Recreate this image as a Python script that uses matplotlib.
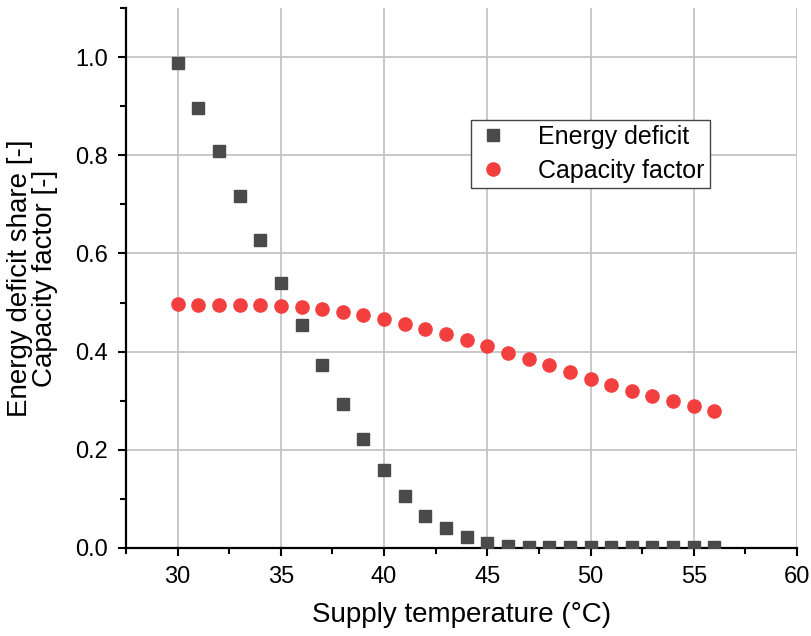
import matplotlib
matplotlib.use("Agg")
import matplotlib.pyplot as plt
from matplotlib.ticker import MultipleLocator

plt.rcParams['font.family'] = ['Liberation Sans', 'DejaVu Sans']

# supply temperature (°C)
temps = list(range(30, 57))

# energy deficit share [-]
deficit = [0.988, 0.897, 0.808, 0.718, 0.628, 0.540, 0.455, 0.372, 0.293, 0.222,
           0.158, 0.105, 0.066, 0.040, 0.022, 0.010, 0.005, 0.003, 0.002, 0.002,
           0.002, 0.002, 0.002, 0.002, 0.002, 0.002, 0.002]

# capacity factor [-]
capacity = [0.497, 0.496, 0.496, 0.495, 0.494, 0.493, 0.490, 0.486, 0.481, 0.474,
            0.466, 0.457, 0.447, 0.436, 0.424, 0.412, 0.398, 0.385, 0.372, 0.358,
            0.345, 0.332, 0.320, 0.309, 0.299, 0.289, 0.280]

fig = plt.figure(figsize=(8.11, 6.36), dpi=100)
ax = fig.add_axes([0.1554, 0.1384, 0.8273, 0.849])

ax.plot(temps, deficit, 's', color='#4a4a4a', markersize=8.5, label='Energy deficit', zorder=3)
ax.plot(temps, capacity, 'o', color='#f43f3f', markersize=9.5, label='Capacity factor', zorder=3)

ax.set_xlim(27.5, 60)
ax.set_ylim(0, 1.1)
ax.xaxis.set_minor_locator(MultipleLocator(2.5))
ax.yaxis.set_minor_locator(MultipleLocator(0.1))
ax.set_xticks(range(30, 61, 5))
ax.set_yticks([0.0, 0.2, 0.4, 0.6, 0.8, 1.0])
ax.set_yticklabels(['0.0', '0.2', '0.4', '0.6', '0.8', '1.0'])

ax.grid(True, which='major', color='#c0c0c0', linewidth=1.2, zorder=0)
ax.set_axisbelow(True)

for s in ['top', 'right']:
    ax.spines[s].set_visible(False)
for s in ['left', 'bottom']:
    ax.spines[s].set_linewidth(1.6)
    ax.spines[s].set_color('black')

ax.tick_params(which='major', direction='out', length=6, width=1.5, labelsize=17, pad=7)
ax.tick_params(which='minor', direction='out', length=4, width=1.5)

ax.set_xlabel('Supply temperature (°C)', fontsize=20, labelpad=10)
ax.set_ylabel('Energy deficit share [-]\nCapacity factor [-]', fontsize=20, labelpad=12,
              linespacing=0.95, multialignment='center')

leg = ax.legend(loc='upper left', bbox_to_anchor=(0.514, 0.793), fontsize=18,
                frameon=True, fancybox=False, edgecolor='#444444', framealpha=1,
                handletextpad=1.1, borderpad=0.2, labelspacing=0.4, handlelength=1.4,
                borderaxespad=0)
leg.get_frame().set_linewidth(1.0)

fig.savefig('out.png', dpi=100)
